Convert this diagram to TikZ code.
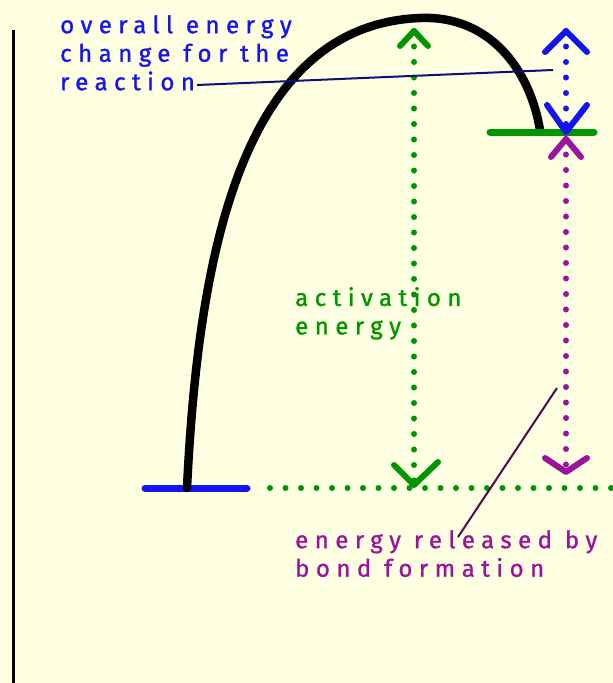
\documentclass[tikz,border=0pt]{standalone}
\usepackage{fontspec}
\newfontfamily\hand[LetterSpace=27,FakeBold=1.2]{Fira Sans}
\definecolor{bgc}{RGB}{255,255,226}
\definecolor{gc}{RGB}{0,150,0}
\definecolor{bc}{RGB}{20,20,240}
\definecolor{pc}{RGB}{155,20,155}
\definecolor{navyc}{RGB}{15,15,120}
\definecolor{dpc}{RGB}{75,10,80}
\tikzset{
  dotline/.style={line width=6pt, line cap=round, dash pattern=on 0pt off 15.5pt},
  head/.style={line width=6pt, line cap=round, line join=round},
  level/.style={line width=7pt, line cap=round},
  leader/.style={line width=2pt},
  lbl/.style={font=\hand\fontsize{24}{28.5}\selectfont, align=left, anchor=north west, inner sep=0pt},
}
\begin{document}
\begin{tikzpicture}[x=1pt,y=-1pt]
\fill[bgc] (0,0) rectangle (613,683);
\useasboundingbox (0,0) rectangle (613,683);
% axis
\coordinate (ax1) at (13,30);
\coordinate (ax2) at (13,683);
\draw[line width=3pt] (ax1) -- (ax2);
% levels
\coordinate (r1) at (145,488); \coordinate (r2) at (247,488);
\coordinate (p1) at (490,132); \coordinate (p2) at (594,132);
\draw[level, bc] (r1) -- (r2);
% dotted reactant level extension
\coordinate (d1) at (270,488); \coordinate (d2) at (613,488);
\draw[dotline, gc] (d1) -- (d2);
% curve
\coordinate (cs) at (187,488); \coordinate (cp) at (420,18); \coordinate (ce) at (540,130);
\draw[line width=8.5pt, line cap=round] (cs) .. controls (198,260) and (240,25) .. (cp) .. controls (490,15) and (530,70) .. (ce);
\draw[level, gc] (p1) -- (p2);
% activation energy arrow
\coordinate (gt) at (414,31); \coordinate (gb) at (414,485);
\draw[dotline, gc] (gt) -- (gb);
\draw[head, gc] (gt) ++(-14,15) -- (gt) -- ++(14,15);
\draw[head, gc] (gb) ++(-20,-20) -- (gb) -- ++(24,-23);
% overall energy change arrow
\coordinate (bt) at (566,31); \coordinate (bb) at (566,132);
\draw[dotline, bc] (bt) -- (bb);
\draw[head, bc] (bt) ++(-21,21) -- (bt) -- ++(21,21);
\draw[head, bc] (bb) ++(-19,-27) -- (bb) -- ++(21,-27);
% energy released arrow
\coordinate (mt) at (566,139); \coordinate (mb) at (566,472);
\draw[dotline, pc] (mt) -- (mb);
\draw[head, pc] (mt) ++(-15,18) -- (mt) -- ++(15,18);
\draw[head, pc] (mb) ++(-21,-14) -- (mb) -- ++(21,-14);
% labels
\node[lbl, text=bc] (l1) at (60,15) {overall energy\\change for the\\reaction};
\node[lbl, text=gc] (l2) at (295,287) {activation\\energy};
\node[lbl, text=pc] (l3) at (295,530) {energy released by\\bond formation};
% leaders
\coordinate (n1) at (197,85); \coordinate (n2) at (553,70);
\draw[leader, navyc] (n1) -- (n2);
\coordinate (q1) at (458,537); \coordinate (q2) at (557,388);
\draw[leader, dpc] (q1) -- (q2);
\end{tikzpicture}
\end{document}
